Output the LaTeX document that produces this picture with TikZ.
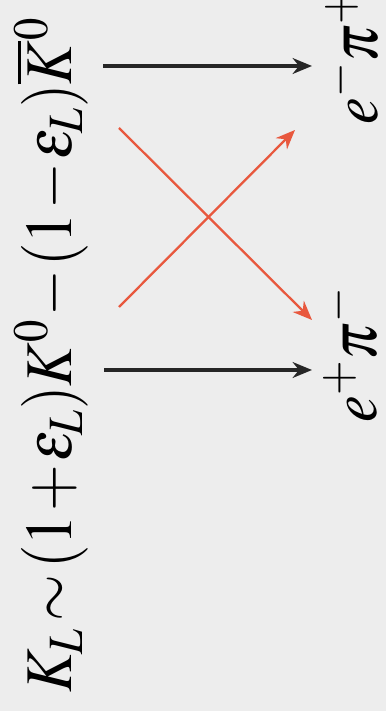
\documentclass[tikz,border=0pt]{standalone}
\usepackage{xcolor}
\usepackage{graphicx}
\usepackage{mathptmx}
\usetikzlibrary{arrows.meta}
\definecolor{bg}{RGB}{237,237,237}
\definecolor{decayred}{RGB}{232,88,62}

\begin{document}
\begin{tikzpicture}[
  plain/.style={draw=black!85,line width=1.8pt,-{Stealth[length=11pt,width=9pt]}},
  mix/.style={draw=decayred,line width=1.3pt,-{Stealth[length=11pt,width=9pt]}}]
  \useasboundingbox[fill=bg] (0,0) rectangle (7.72,14.22);
  \coordinate (A) at (2.06,12.90); \coordinate (B) at (6.24,12.90);
  \coordinate (C) at (2.08,6.82); \coordinate (D) at (6.24,6.82);
  \coordinate (E) at (2.38,11.66); \coordinate (F) at (6.24,7.82);
  \coordinate (G) at (2.38,8.08); \coordinate (H) at (5.90,11.62);
  \draw[plain] (A)--(B); \draw[plain] (C)--(D);
  \draw[mix] (E)--(F); \draw[mix] (G)--(H);
  \node[rotate=90,anchor=base west,inner sep=0pt,font=\fontsize{38}{42}\selectfont] (kl) at (1.44,0.36)
    {\scalebox{0.9}[1]{\medmuskip=1mu\thickmuskip=2mu$K_L\sim(1+\varepsilon_L)K^0-(1-\varepsilon_L)\overline{K}{}^0$}};
  \node[rotate=90,anchor=base west,inner sep=0pt,font=\fontsize{38}{42}\selectfont] (ep) at (7.56,11.72)
    {\scalebox{0.9}[1]{$e^-\pi^+$}};
  \node[rotate=90,anchor=base west,inner sep=0pt,font=\fontsize{38}{42}\selectfont] (pe) at (7.52,5.76)
    {\scalebox{0.9}[1]{$e^+\pi^-$}};
\end{tikzpicture}
\end{document}
